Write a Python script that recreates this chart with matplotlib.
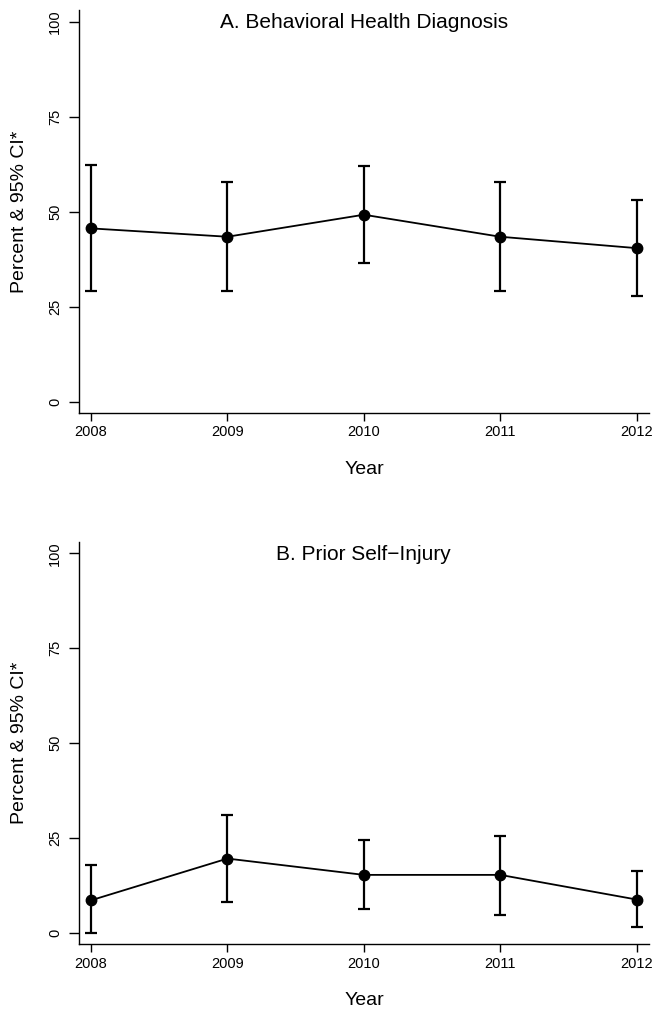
import numpy as np
import matplotlib
matplotlib.use("Agg")
from matplotlib import pyplot as plt

plt.rcParams['font.family'] = ['Liberation Sans', 'DejaVu Sans']

years = [2008, 2009, 2010, 2011, 2012]

# A. Behavioral Health Diagnosis
bh_pct = [45.6, 43.4, 49.2, 43.4, 40.4]
bh_lo = [29.2, 29.2, 36.5, 29.2, 27.8]
bh_hi = [62.3, 57.8, 61.9, 57.8, 53.1]

# B. Prior Self-Injury
si_pct = [8.6, 19.6, 15.3, 15.3, 8.8]
si_lo = [0.0, 8.2, 6.2, 4.8, 1.5]
si_hi = [17.8, 31.1, 24.4, 25.6, 16.3]

titles = ["A. Behavioral Health Diagnosis", "B. Prior Self\u2212Injury"]
yticks = [0, 25, 50, 75, 100]

fig = plt.figure(figsize=(6.55, 10.09), dpi=100)
ax1 = fig.add_axes([0.1206, 0.5907, 0.8702, 0.3994])
ax2 = fig.add_axes([0.1206, 0.0641, 0.8702, 0.3990])

panels = [(ax1, bh_pct, bh_lo, bh_hi, titles[0]),
          (ax2, si_pct, si_lo, si_hi, titles[1])]

for ax, pct, lo, hi, ttl in panels:
    pct = np.array(pct)
    err = [pct - np.array(lo), np.array(hi) - pct]
    ax.errorbar(years, pct, yerr=err, color='black', lw=1.3,
                elinewidth=1.6, capsize=4.5, capthick=1.6,
                marker='o', markersize=7.5)
    ax.set_xlim(2007.912, 2012.09)
    ax.set_ylim(-3.0, 103.1)
    ax.set_xticks(years)
    ax.set_yticks(yticks)
    ax.set_yticklabels([str(v) for v in yticks], rotation=90, va='center')
    ax.spines['top'].set_visible(False)
    ax.spines['right'].set_visible(False)
    for s in ('left', 'bottom'):
        ax.spines[s].set_linewidth(1.0)
    ax.tick_params(direction='out', length=7, width=1.0, labelsize=10.5)
    ax.tick_params(axis='y', pad=5)
    ax.tick_params(axis='x', length=6, pad=3)
    ax.set_xlabel("Year", fontsize=14)
    ax.xaxis.set_label_coords(0.5, -0.118)
    ax.set_ylabel("Percent & 95% CI*", fontsize=14)
    ax.yaxis.set_label_coords(-0.09, 0.5)
    ax.text(2010, 98.4, ttl, ha='center', va='baseline', fontsize=15)

fig.savefig("out.png", dpi=100)
